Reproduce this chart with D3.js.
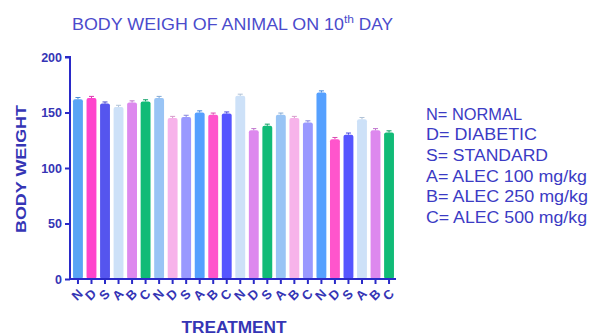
<!DOCTYPE html>
<html><head><meta charset="utf-8">
<script src="https://cdn.jsdelivr.net/npm/d3@7"></script>
<style>body{margin:0;background:#fff}svg{display:block;font-family:"Liberation Sans",Arial,sans-serif}</style>
</head><body><svg id="c" width="593" height="336"></svg>
<script>
const categories = ["N","D","S","A","B","C","N","D","S","A","B","C","N","D","S","A","B","C","N","D","S","A","B","C"];
const values = [162,163,158,155,159,160,163,145,146,150,148,149,165,134,138,148,145,141,168,126,130,144,134,132];
const errors = [1.5,1.5,1.5,1.5,1.5,1.5,1.5,1.5,1.5,1.5,1.5,1.5,1.5,1.5,1.5,1.5,1.5,1.5,1.5,1.5,1.5,1.5,1.5,1.5];
const colors = ["#5aa5f5","#ff44cc","#5555ee","#cde1f8","#dd88ee","#11bb77",
                "#99c4f5","#f7b3ea","#9999ff","#55a0ff","#ff55cc","#5555ff",
                "#cde1f8","#dd88ee","#11bb77","#99c4f5","#f7b3ea","#9999ff",
                "#55a0ff","#ff55cc","#5555ff","#cde1f8","#dd88ee","#11bb77"];
const yTicks = [0,50,100,150,200];
const legendLines = ["N= NORMAL","D= DIABETIC","S= STANDARD","A= ALEC 100 mg/kg","B= ALEC 250 mg/kg","C= ALEC 500 mg/kg"];
const legendWidths = [96,111,122,161,162,161];

const svg = d3.select("#c");
const axisColor = "#2a2ac8", textColor = "#3535b5";
const x0 = 70, x1 = 396, yTop = 57, yBot = 279;
const x = d3.scaleBand().domain(d3.range(values.length)).range([x0+1, x1]).paddingInner(0.27).paddingOuter(0.15);
const y = d3.scaleLinear().domain([0,200]).range([yBot, yTop]);

// bars
svg.append("g").selectAll("rect").data(values).join("rect")
  .attr("x",(d,i)=>x(i)).attr("width",x.bandwidth())
  .attr("y",d=>y(d)).attr("height",d=>yBot-y(d))
  .attr("rx",2).attr("fill",(d,i)=>colors[i]);
// error caps
const eg = svg.append("g");
values.forEach((v,i)=>{
  const cx = x(i)+x.bandwidth()/2;
  const c = d3.color(colors[i]).darker(0.4);
  eg.append("line").attr("x1",cx).attr("x2",cx).attr("y1",y(v)).attr("y2",y(v+errors[i])).attr("stroke",c).attr("stroke-width",1);
  eg.append("line").attr("x1",cx-2.5).attr("x2",cx+2.5).attr("y1",y(v+errors[i])).attr("y2",y(v+errors[i])).attr("stroke",c).attr("stroke-width",1);
});

// y axis
const ya = svg.append("g").attr("transform",`translate(${x0},0)`)
  .call(d3.axisLeft(y).tickValues(yTicks).tickSize(5).tickPadding(3));
ya.select(".domain").attr("stroke",axisColor).attr("stroke-width",2).attr("d",`M-5,${yTop}H0V${yBot}`);
ya.selectAll(".tick line").attr("stroke",axisColor).attr("stroke-width",2);
ya.selectAll(".tick text").attr("fill",textColor).attr("font-size",12.5).attr("font-weight","bold").attr("font-family","Liberation Sans, Arial, sans-serif");

// x axis
const xa = svg.append("g").attr("transform",`translate(0,${yBot})`)
  .call(d3.axisBottom(x).tickFormat(i=>categories[i]).tickSize(5).tickPadding(4));
xa.select(".domain").attr("stroke",axisColor).attr("stroke-width",2).attr("d",`M${x0},0H${x1}`);
xa.selectAll(".tick line").attr("stroke",axisColor).attr("stroke-width",2);
xa.selectAll(".tick text").attr("fill",textColor).attr("font-size",13).attr("font-weight","bold")
  .attr("font-family","Liberation Sans, Arial, sans-serif")
  .attr("text-anchor","middle").attr("dy",null)
  .attr("transform","translate(0,16.5) rotate(-45)").attr("y",0).attr("dominant-baseline","middle");

// title
const t = svg.append("text").attr("x",72).attr("y",30)
  .attr("fill","#4b4bcc").attr("font-size",16.5);
t.append("tspan").attr("textLength",272).attr("lengthAdjust","spacingAndGlyphs").text("BODY WEIGH OF ANIMAL ON 10");
t.append("tspan").attr("dy",-7).attr("font-size",11).attr("textLength",10).attr("lengthAdjust","spacingAndGlyphs").text("th");
t.append("tspan").attr("dy",7).attr("textLength",39).attr("lengthAdjust","spacingAndGlyphs").text(" DAY");

// axis titles
svg.append("text").attr("transform",`translate(26,${169}) rotate(-90)`)
  .attr("text-anchor","middle").attr("fill",textColor).attr("font-size",15.5).attr("font-weight","bold")
  .attr("textLength",128).attr("lengthAdjust","spacingAndGlyphs").text("BODY WEIGHT");
svg.append("text").attr("x",234).attr("y",333).attr("text-anchor","middle")
  .attr("fill",textColor).attr("font-size",16).attr("font-weight","bold")
  .attr("textLength",105).attr("lengthAdjust","spacingAndGlyphs").text("TREATMENT");

// legend
svg.append("g").selectAll("text").data(legendLines).join("text")
  .attr("x",426).attr("y",(d,i)=>119.5+i*20.7).attr("fill","#3b3bc4").attr("font-size",16)
  .attr("textLength",(d,i)=>legendWidths[i]).attr("lengthAdjust","spacingAndGlyphs").text(d=>d);
</script></body></html>
